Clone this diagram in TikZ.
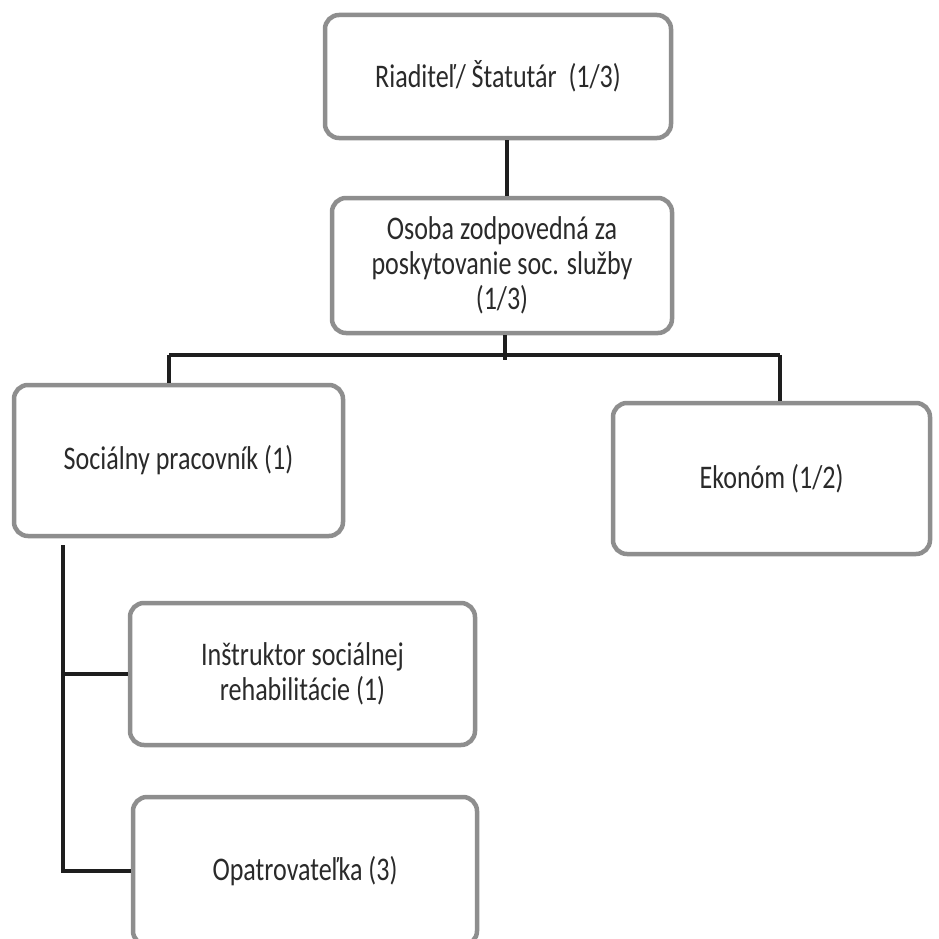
\documentclass[tikz,border=0pt]{standalone}
\usepackage{fontspec}
\setmainfont{Carlito}[FakeStretch=0.79]
\usetikzlibrary{positioning}
\definecolor{boxgray}{HTML}{8E8E8E}
\definecolor{textgray}{HTML}{2A2A2A}
\definecolor{linkblack}{HTML}{1E1E1E}

\begin{document}
\begin{tikzpicture}
[x=1pt,y=-1pt,on grid,
 box/.style={draw=boxgray,line width=4.5pt,rounded corners=14pt,fill=white,
   align=center,inner sep=0pt,text=textgray,
   font=\fontsize{33pt}{35pt}\selectfont},
 link/.style={draw=linkblack,line width=3.2pt}]
\useasboundingbox (0,0) rectangle (938,939);

\node[box, minimum width=346pt, minimum height=123pt] (riaditel) at (498,76.5) {Riaditeľ/ Štatutár\ \ (1/3)};
\node[box, minimum width=340pt, minimum height=135pt, below right=189pt and 4pt of riaditel] (osoba) {Osoba zodpovedná za\\poskytovanie soc. služby\\(1/3)};
\node[box, minimum width=329pt, minimum height=151pt, below left=195pt and 323.5pt of osoba] (socialny) {Sociálny pracovník (1)};
\node[box, minimum width=317pt, minimum height=151pt, below right=213pt and 269.5pt of osoba] (ekonom) {Ekonóm (1/2)};
\node[box, minimum width=345pt, minimum height=142pt, below right=213.5pt and 124pt of socialny] (instruktor) {Inštruktor sociálnej\\rehabilitácie (1)};
\node[box, minimum width=344pt, minimum height=148pt, below right=197pt and 2.5pt of instruktor] (opatrovatelka) {Opatrovateľka (3)};

\coordinate[below right=89.5pt and 3pt of osoba] (busmid);
\coordinate[left=336pt of busmid] (busleft);
\coordinate[right=275pt of busmid] (busright);
\coordinate[below left=7pt and 115.5pt of socialny.south] (stem);

\draw[link] ([xshift=9pt]riaditel.south) -- ([xshift=5pt]osoba.north);
\draw[link] ([xshift=3pt]osoba.south) -- ([yshift=-5pt]busmid);
\draw[link] (busleft) -- (busright);
\draw[link] (busleft) -- (busleft |- socialny.north);
\draw[link] (busright) -- (busright |- ekonom.north);
\draw[link] (stem) |- (opatrovatelka.west);
\draw[link] (stem |- instruktor.west) -- (instruktor.west);

\end{tikzpicture}
\end{document}
